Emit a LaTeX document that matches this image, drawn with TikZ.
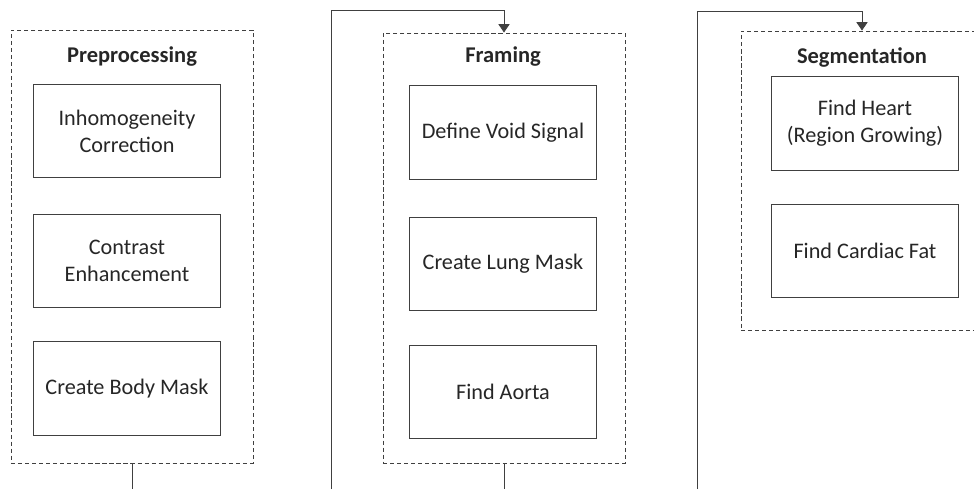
\documentclass[tikz,border=0pt]{standalone}
\usepackage{fontspec}
\setmainfont{Carlito}
\usetikzlibrary{arrows.meta}
\definecolor{ln}{HTML}{404040}
\definecolor{tx}{HTML}{262626}
\begin{document}
\begin{tikzpicture}[x=0.025cm,y=-0.025cm,
  every node/.style={font=\fontsize{15.8}{19.2}\selectfont,text=tx},
  stepbox/.style={draw=ln,semithick,minimum width=4.675cm,minimum height=2.33cm,align=center,inner sep=0pt},
  grp/.style={draw=ln,semithick,dash pattern=on 3pt off 2pt,minimum width=6.05cm,inner sep=0pt},
  ttl/.style={font=\fontsize{16}{19.2}\selectfont\bfseries},
  conn/.style={draw=ln,semithick,-{Triangle[width=8pt,length=6pt]}}]
\clip (0,0) rectangle (974,489);
% groups
\node[grp,minimum height=10.825cm] (pre) at (132,246.5) {};
\node[grp,minimum height=10.75cm] (fram) at (504,248) {};
\node[grp,minimum height=7.475cm] (seg) at (862,180.5) {};
\node[ttl] (tpre) at (132,57) {Preprocessing};
\node[ttl] (tfram) at (503,57) {Framing};
\node[ttl] (tseg) at (862,57) {Segmentation};
% steps
\node[stepbox] (inh) at (127,131) {Inhomogeneity\\Correction};
\node[stepbox] (con) at (127,261) {Contrast\\Enhancement};
\node[stepbox] (body) at (127,388.5) {Create Body Mask};
\node[stepbox] (void) at (503,132.5) {Define Void Signal};
\node[stepbox] (lung) at (503,264) {Create Lung Mask};
\node[stepbox] (aorta) at (503,392) {Find Aorta};
\node[stepbox] (heart) at (865,123.5) {Find Heart\\(Region Growing)};
\node[stepbox] (fat) at (865,251) {Find Cardiac Fat};
% links
\coordinate (e1) at (132,489);
\coordinate (e2) at (504,489);
\coordinate (b1) at (331,489);
\coordinate (t1) at (504,10);
\coordinate (b2) at (697,489);
\coordinate (t2) at (862,11);
\draw[draw=ln,semithick] (pre) -- (e1);
\draw[draw=ln,semithick] (fram) -- (e2);
\draw[conn] (b1) |- (t1) -- (fram);
\draw[conn] (b2) |- (t2) -- (seg);
\end{tikzpicture}
\end{document}
